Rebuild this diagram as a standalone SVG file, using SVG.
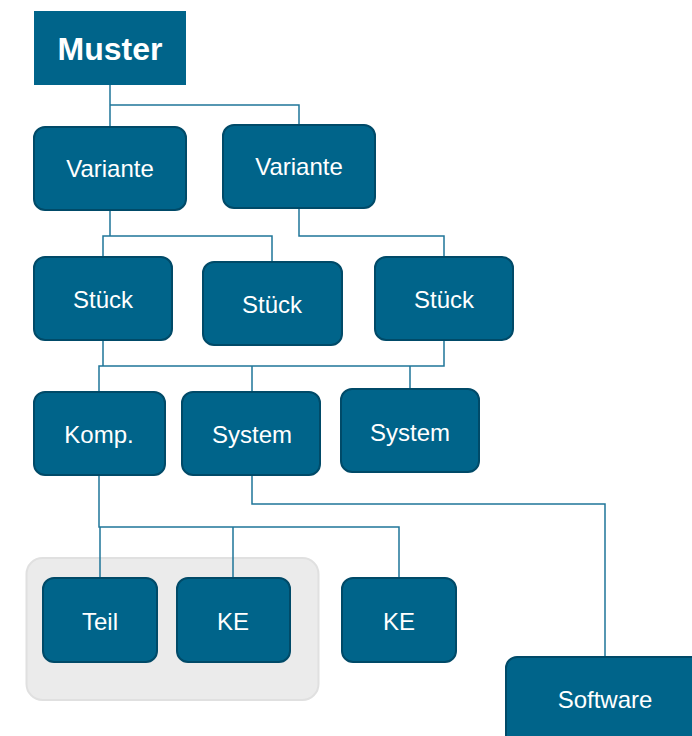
<svg xmlns="http://www.w3.org/2000/svg" width="692" height="736" viewBox="0 0 692 736">
<style>
.n{fill:#00648a;stroke:#004a68;stroke-width:2}
.t{fill:#ffffff;font-family:"Liberation Sans",Arial,sans-serif;font-size:24px;text-anchor:middle}
.c{fill:none;stroke:#1f7699;stroke-width:1.5}
</style>
<rect x="0" y="0" width="692" height="736" fill="#ffffff"/>
<g id="group-box"><rect x="26.5" y="558" width="292" height="142" rx="16" fill="#ebebeb" stroke="#e0e0e0" stroke-width="2"/></g>
<g id="connectors">
<path class="c" d="M110,85 V127 M110,105 H299 V125"/>
<path class="c" d="M110,211 V236 H103 V257 M110,236 H272 V262"/>
<path class="c" d="M299,208 V236 H444 V257"/>
<path class="c" d="M103,341 V366 H99 V392 M103,366 H444 V341 M252,366 V392 M410,366 V389"/>
<path class="c" d="M99,476 V527 H100 V578 M99,527 H399 V578 M233,527 V578"/>
<path class="c" d="M252,476 V504 H605 V657"/>
</g>
<g id="muster"><rect x="34" y="11" width="152" height="74" fill="#00648a"/><text x="110" y="60" class="t" style="font-size:32px;font-weight:bold">Muster</text></g>
<g id="variante1"><rect class="n" x="34" y="127" width="152" height="83" rx="11"/><text class="t" x="110" y="177">Variante</text></g>
<g id="variante2"><rect class="n" x="223" y="125" width="152" height="83" rx="11"/><text class="t" x="299" y="175">Variante</text></g>
<g id="stueck1"><rect class="n" x="34" y="257" width="138" height="83" rx="11"/><text class="t" x="103" y="308">Stück</text></g>
<g id="stueck2"><rect class="n" x="203" y="262" width="139" height="83" rx="11"/><text class="t" x="272" y="313">Stück</text></g>
<g id="stueck3"><rect class="n" x="375" y="257" width="138" height="83" rx="11"/><text class="t" x="444" y="308">Stück</text></g>
<g id="komp"><rect class="n" x="34" y="392" width="131" height="83" rx="11"/><text class="t" x="99" y="443">Komp.</text></g>
<g id="system1"><rect class="n" x="182" y="392" width="138" height="83" rx="11"/><text class="t" x="252" y="443">System</text></g>
<g id="system2"><rect class="n" x="341" y="389" width="138" height="83" rx="11"/><text class="t" x="410" y="441">System</text></g>
<g id="teil"><rect class="n" x="43" y="578" width="114" height="84" rx="11"/><text class="t" x="100" y="630">Teil</text></g>
<g id="ke1"><rect class="n" x="177" y="578" width="113" height="84" rx="11"/><text class="t" x="233" y="630">KE</text></g>
<g id="ke2"><rect class="n" x="342" y="578" width="114" height="84" rx="11"/><text class="t" x="399" y="630">KE</text></g>
<g id="software"><rect class="n" x="506" y="657" width="198" height="90" rx="11"/><text class="t" x="605" y="708">Software</text></g>
</svg>
